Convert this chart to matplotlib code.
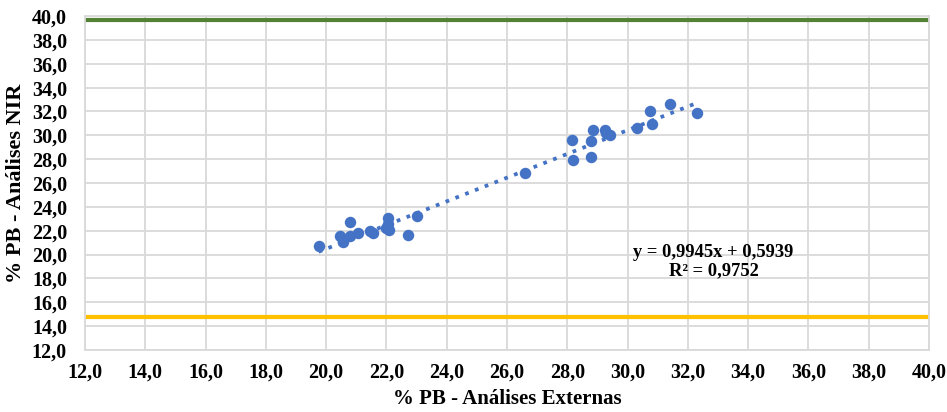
import matplotlib
matplotlib.use("Agg")
import matplotlib.pyplot as plt
import numpy as np

# data
ext = [19.75, 20.45, 20.55, 20.8, 20.8, 21.05, 21.45, 21.55, 22.05, 22.05, 22.1, 22.0,
       22.7, 23.0, 26.6, 28.15, 28.2, 28.8, 28.8, 28.85, 29.25, 29.4, 29.3, 30.3,
       30.75, 30.8, 31.4, 32.3]
nir = [20.7, 21.6, 21.05, 22.75, 21.55, 21.85, 22.0, 21.85, 23.05, 22.6, 22.05, 22.2,
       21.65, 23.2, 26.85, 29.65, 27.95, 28.15, 29.5, 30.45, 30.45, 30.0, 30.2, 30.6,
       32.0, 30.95, 32.6, 31.9]
limit_hi = 39.65
limit_lo = 14.8
slope, intercept, r2 = 0.9945, 0.5939, 0.9752
ticks = np.arange(12, 41, 2)

plt.rcParams['font.family'] = ['Liberation Serif', 'DejaVu Serif']
plt.rcParams['font.weight'] = 'bold'

fig = plt.figure(figsize=(9.47, 4.12), dpi=100)
ax = fig.add_axes([0.0898, 0.1505, 0.8912, 0.8105])

grid_c = '#d9d9d9'
ax.set_xlim(12, 40)
ax.set_ylim(12, 40)
ax.set_xticks(ticks)
ax.set_yticks(ticks)
fmt = lambda v: ('%.1f' % v).replace('.', ',')
ax.set_xticklabels([fmt(t) for t in ticks], fontsize=14.5, fontweight='bold')
ax.set_yticklabels([fmt(t) for t in ticks], fontsize=14.5, fontweight='bold')
ax.tick_params(length=0, pad=9)
ax.tick_params(axis='y', pad=13)
ax.grid(True, color=grid_c, linewidth=1.3)
ax.set_axisbelow(True)
for s in ax.spines.values():
    s.set_color(grid_c)
    s.set_linewidth(1.3)

# limit lines
ax.axhline(limit_hi, color='#548235', linewidth=3)
ax.axhline(limit_lo, color='#ffc000', linewidth=3)

# scatter + trend line
ax.scatter(ext, nir, s=68, color='#4472c4', zorder=3, linewidths=0)
xs = np.array([min(ext), max(ext)])
ax.plot(xs, slope * xs + intercept, color='#4472c4', linewidth=2.7,
        linestyle=(0, (1, 1.8)), zorder=3)

eq = 'y = %s x + %s' % (('%.4f' % slope).replace('.', ','), ('%.4f' % intercept).replace('.', ','))
eq = eq.replace(' x', 'x')
ax.text(32.85, 20.15, eq, ha='center', va='center', fontsize=13.3, fontweight='bold')
ax.text(32.85, 18.65, 'R² = ' + ('%.4f' % r2).replace('.', ','), ha='center', va='center',
        fontsize=13.3, fontweight='bold')

ax.set_xlabel('% PB - Análises Externas', fontsize=15, fontweight='bold', labelpad=5)
ax.set_ylabel('% PB - Análises NIR', fontsize=16, fontweight='bold', labelpad=4)

fig.savefig('out.png', dpi=100)
